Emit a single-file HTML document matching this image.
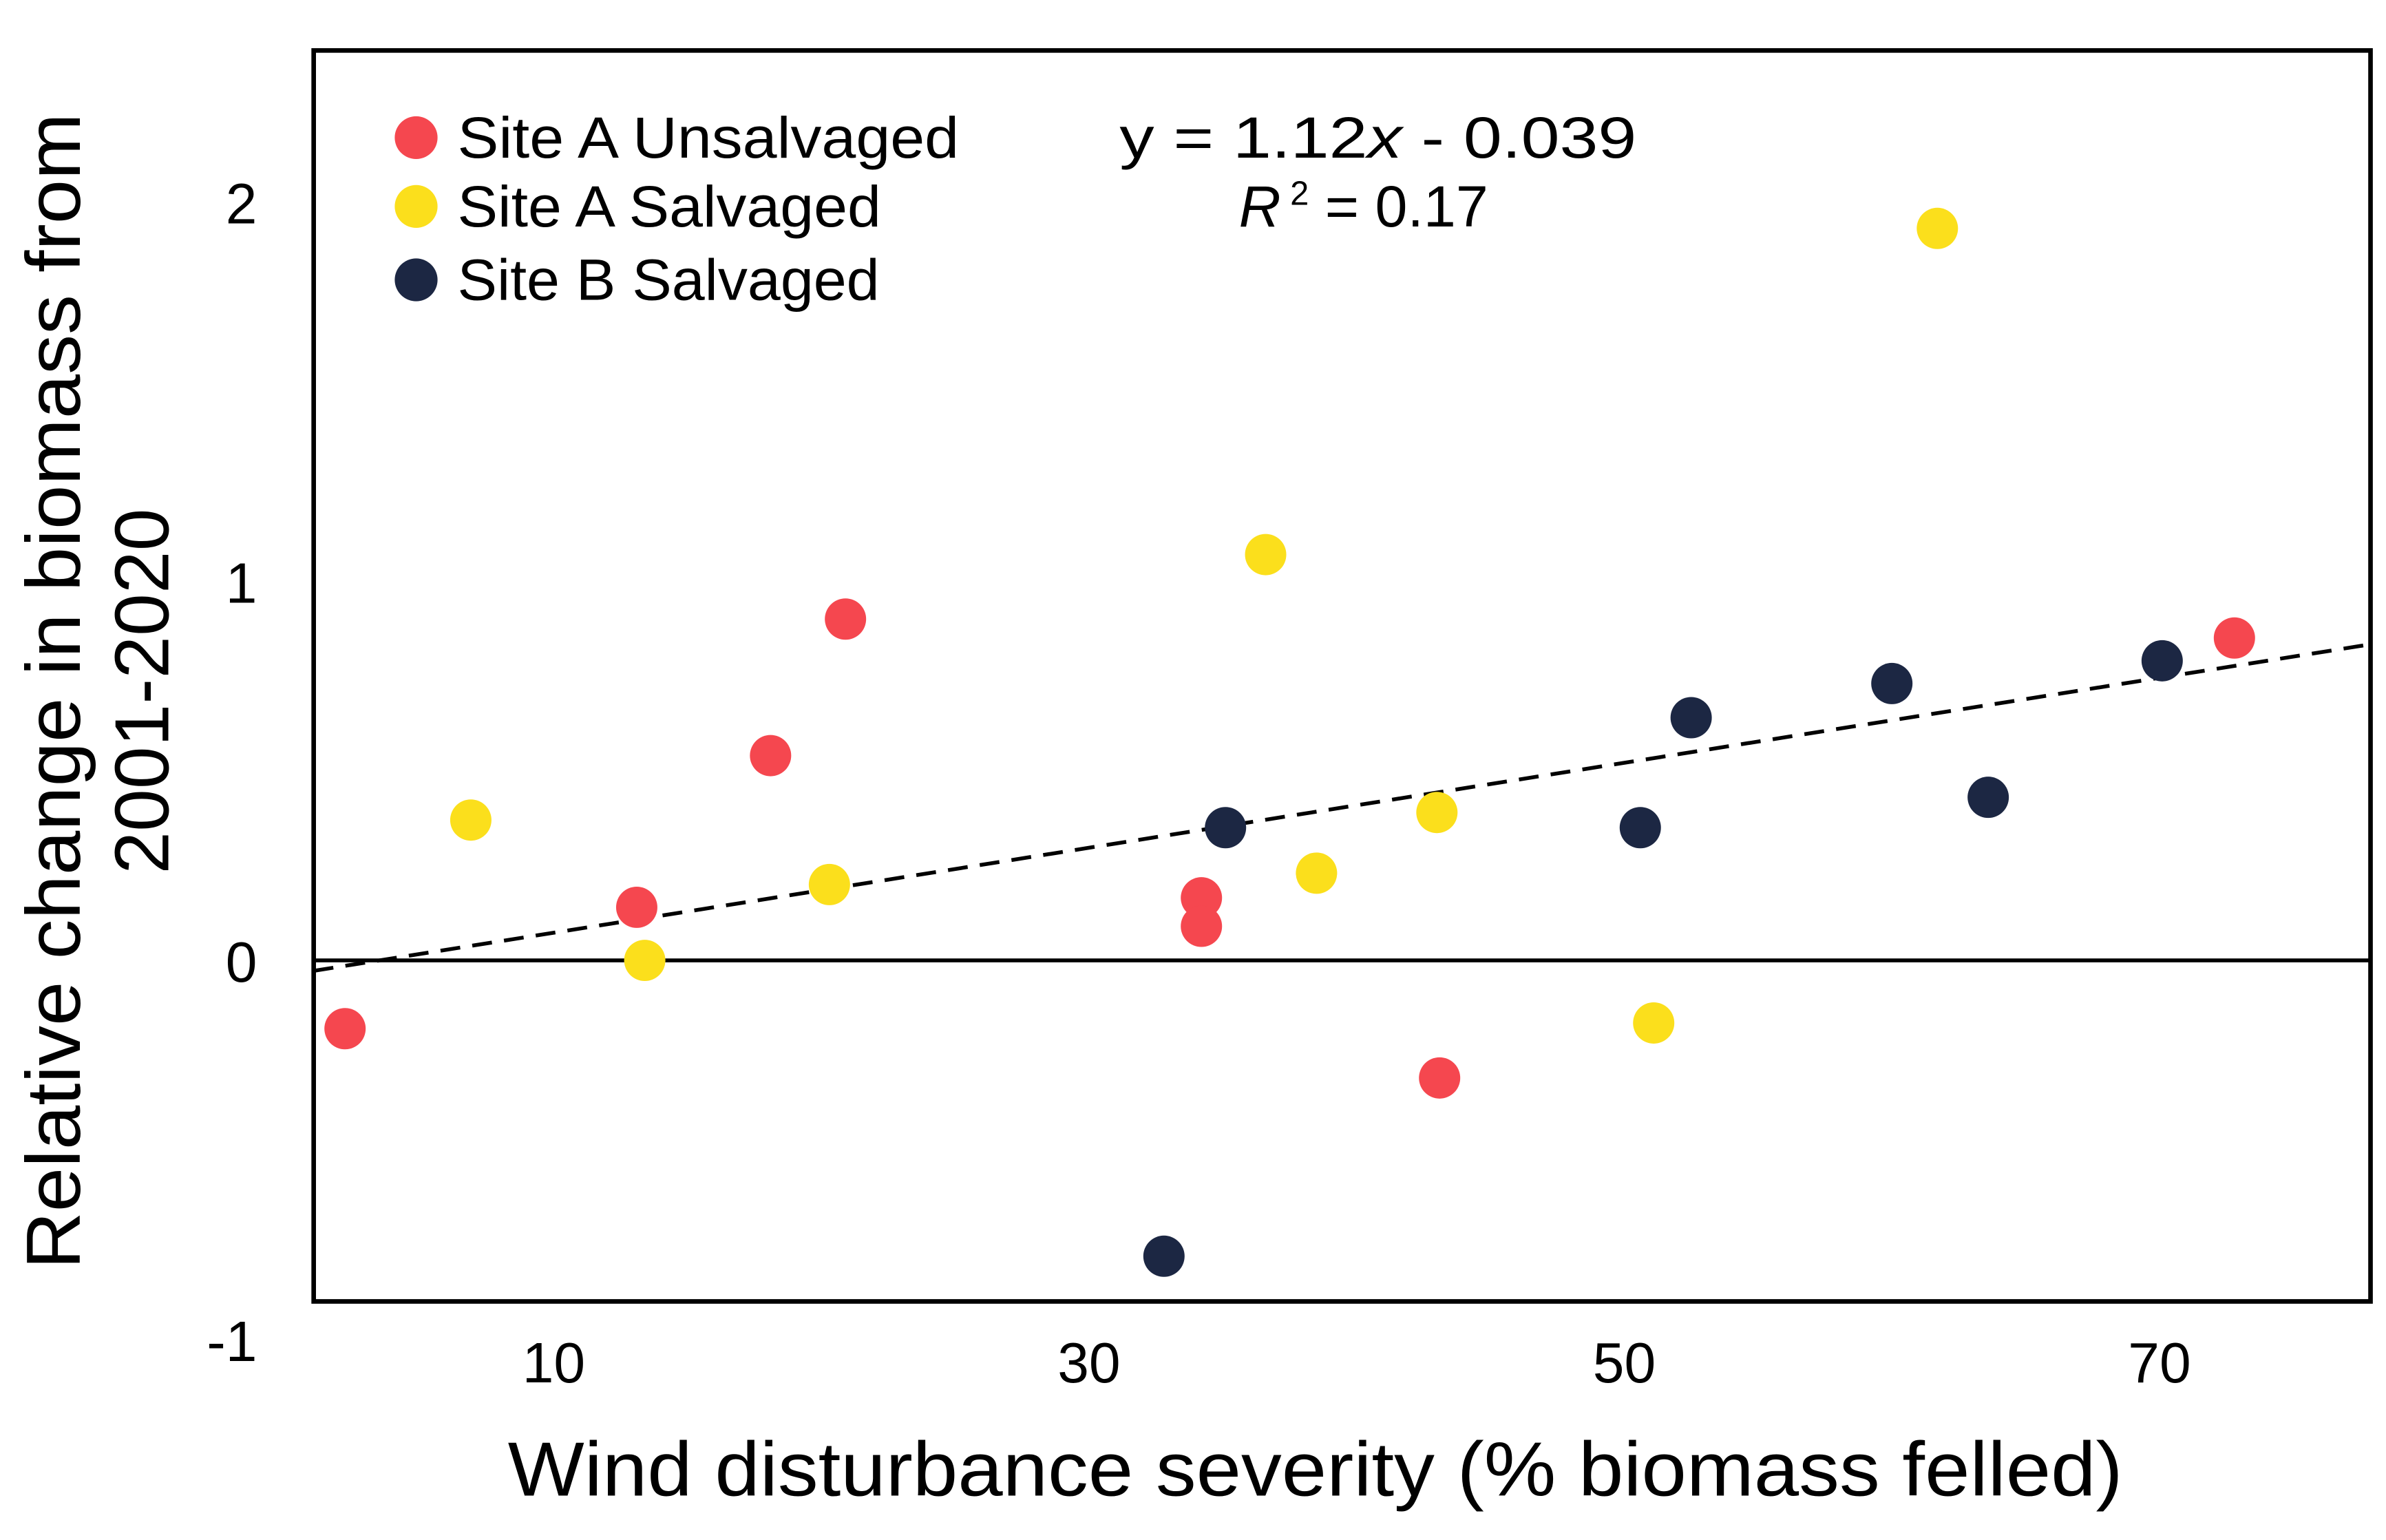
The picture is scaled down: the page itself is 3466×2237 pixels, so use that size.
<!DOCTYPE html>
<html><head><meta charset="utf-8">
<style>html,body{margin:0;padding:0;background:#fff}svg{display:block}</style></head>
<body>
<svg id="chart" width="3466" height="2237" viewBox="0 0 1560 1007" xmlns="http://www.w3.org/2000/svg" font-family="'Liberation Sans', sans-serif">
<rect x="0" y="0" width="1560" height="1007" fill="#fff"/>
<g id="plot"></g>
</svg>
<script>
const xTicks = [10, 30, 50, 70];
const yTicks = [-1, 0, 1, 2];
const redX = [2.2, 20.9, 18.1, 13.1, 34.2, 34.2, 43.1, 72.8];
const redY = [-0.18, 0.90, 0.54, 0.14, 0.165, 0.09, -0.31, 0.85];
const yellowX = [6.9, 13.4, 20.3, 36.6, 38.5, 43.0, 51.1, 61.7];
const yellowY = [0.37, 0.0, 0.20, 1.07, 0.23, 0.39, -0.165, 1.93];
const navyX = [35.1, 32.8, 50.6, 52.5, 60.0, 63.6, 70.1];
const navyY = [0.35, -0.78, 0.35, 0.64, 0.73, 0.43, 0.79];
const slope = 1.12, intercept = -0.039;

const NS = 'http://www.w3.org/2000/svg';
const g = document.getElementById('plot');
const L = 205, R = 1550, T = 33, B = 851;
const sx = v => 187 + v * 17.5;
const sy = v => 628 - v * 248;
function mk(tag, attrs, parent) {
  const e = document.createElementNS(NS, tag);
  for (const k in attrs) e.setAttribute(k, attrs[k]);
  (parent || g).appendChild(e);
  return e;
}
const frame = mk('rect', {x: L, y: T, width: R - L, height: B - T, fill: 'none', stroke: '#000', 'stroke-width': 3});


const zl = mk('line', {x1: L, x2: R, y1: sy(0), y2: sy(0), stroke: '#000', 'stroke-width': 2.5});


const tl = mk('line', {x1: L, y1: sy(slope * (L - 187) / 17.5 / 100 + intercept), x2: R, y2: sy(slope * (R - 187) / 17.5 / 100 + intercept), stroke: '#000', 'stroke-width': 2.5, 'stroke-dasharray': '13,8'});


xTicks.forEach(v => {
  const t = mk('text', {x: sx(v), y: 904, 'font-size': 37, 'text-anchor': 'middle', fill: '#000'});
  t.textContent = v;
  
  
});
yTicks.forEach(v => {
  const t = mk('text', {x: 168, y: sy(v) + 14, 'font-size': 37, 'text-anchor': 'end', fill: '#000'});
  t.textContent = v;
  
  
});
function series(xs, ys, color, name) {
  xs.forEach((x, i) => {
    const c = mk('circle', {cx: sx(x), cy: sy(ys[i]), r: 13.5, fill: color});
    
    
  });
}
series(redX, redY, '#f5474f', 'site-a-unsalvaged');
series(yellowX, yellowY, '#fbdf1c', 'site-a-salvaged');
series(navyX, navyY, '#1c2743', 'site-b-salvaged');
const leg = [['Site A Unsalvaged', '#f5474f', 90, 328], ['Site A Salvaged', '#fbdf1c', 135, 277], ['Site B Salvaged', '#1c2743', 183, 276]];
leg.forEach(l => {
  const c = mk('circle', {cx: 272, cy: l[2], r: 14, fill: l[1]});
  
  
  const t = mk('text', {x: 299, y: l[2] + 13, 'font-size': 38, fill: '#000', textLength: l[3], lengthAdjust: 'spacingAndGlyphs'});
  t.textContent = l[0];
  
  
});
const eq = mk('text', {x: 732, y: 103, 'font-size': 38, fill: '#000', textLength: 338, lengthAdjust: 'spacingAndGlyphs'});
eq.innerHTML = 'y = 1.12<tspan font-style="italic">x</tspan> - 0.039';


const r2 = mk('text', {x: 810, y: 148, 'font-size': 38, fill: '#000'});
r2.innerHTML = '<tspan font-style="italic">R</tspan><tspan font-size="22" dy="-14"> 2</tspan><tspan dy="14"> = 0.17</tspan>';


const xt = mk('text', {x: 860, y: 978, 'font-size': 50, 'text-anchor': 'middle', fill: '#000', textLength: 1056, lengthAdjust: 'spacingAndGlyphs'});
xt.textContent = 'Wind disturbance severity (% biomass felled)';


const yt = mk('text', {transform: 'translate(0,452) rotate(-90)', 'font-size': 50, 'text-anchor': 'middle', fill: '#000'});
yt.innerHTML = '<tspan x="0" y="52" textLength="756" lengthAdjust="spacingAndGlyphs">Relative change in biomass from</tspan><tspan x="0" y="110">2001-2020</tspan>';


</script>
</body></html>
